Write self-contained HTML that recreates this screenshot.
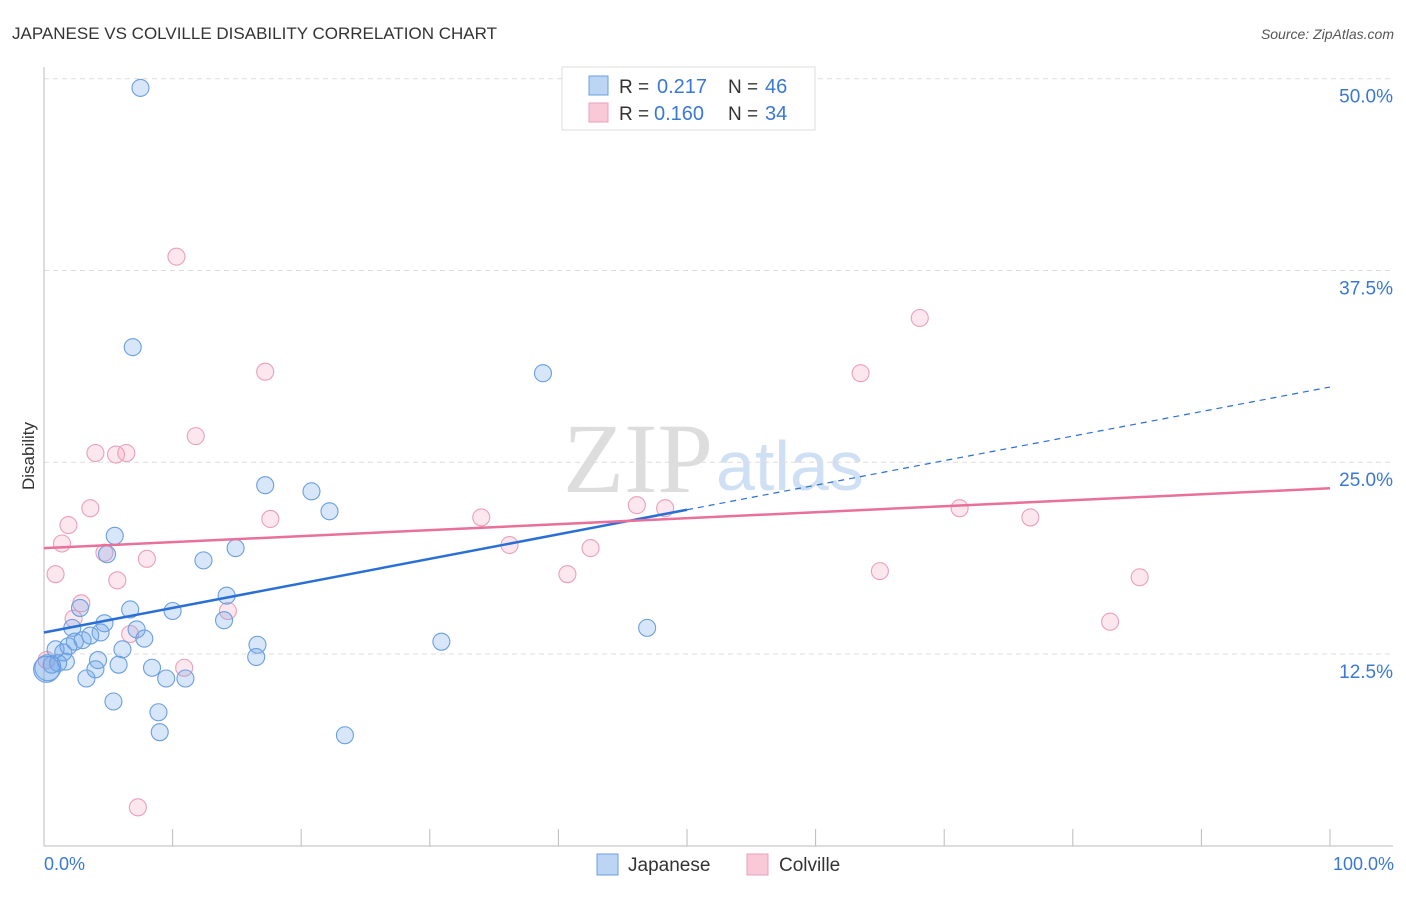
<!DOCTYPE html>
<html><head><meta charset="utf-8"><style>
body{margin:0;background:#fff;font-family:"Liberation Sans",sans-serif}
svg text{font-family:"Liberation Sans",sans-serif}
</style></head><body>
<svg id="c" width="1406" height="892" xmlns="http://www.w3.org/2000/svg">
<text x="12" y="39" font-size="17" fill="#333">JAPANESE VS COLVILLE DISABILITY CORRELATION CHART</text>
<text x="1394" y="39" font-size="14" fill="#555" font-style="italic" text-anchor="end">Source: ZipAtlas.com</text>
<text x="713" y="492" font-size="100" fill="#ddd" text-anchor="end" style="font-family:'Liberation Serif',serif">ZIP</text>
<text x="716" y="490" font-size="70" fill="#cfe0f5">atlas</text>
<g id="grid"></g><g id="axes"></g><g id="marks"></g>
<text x="34" y="456" font-size="17" fill="#333" text-anchor="middle" transform="rotate(-90 34 456)">Disability</text>
<text x="44" y="870" font-size="18" fill="#3a78d4">0.0%</text>
<text x="1394" y="870" font-size="18" fill="#3a78d4" text-anchor="end">100.0%</text>
<g>
<rect x="562" y="67" width="253" height="63" fill="#fff" stroke="#ddd"/>
<rect x="589" y="76" width="19" height="19" fill="#bcd5f5" stroke="#6a9fe0"/>
<rect x="589" y="103" width="19" height="19" fill="#f9c9d8" stroke="#e9a0b8"/>
<text x="619" y="93" font-size="19" fill="#333">R = </text>
<text x="657" y="93" font-size="20" fill="#3a78d4">0.217</text>
<text x="728" y="93" font-size="19" fill="#333">N = </text>
<text x="765" y="93" font-size="20" fill="#3a78d4">46</text>
<text x="619" y="120" font-size="19" fill="#333">R = </text>
<text x="654" y="120" font-size="20" fill="#3a78d4">0.160</text>
<text x="728" y="120" font-size="19" fill="#333">N = </text>
<text x="765" y="120" font-size="20" fill="#3a78d4">34</text>
</g>
<g>
<rect x="597" y="854" width="21" height="21" fill="#bcd5f5" stroke="#6a9fe0"/>
<text x="628" y="871" font-size="19" fill="#333">Japanese</text>
<rect x="747" y="854" width="21" height="21" fill="#f9c9d8" stroke="#e9a0b8"/>
<text x="779" y="871" font-size="19" fill="#333">Colville</text>
</g>
</svg>
<script>
const yTicks=[12.5,25,37.5,50];
const yTickLabels=["12.5%","25.0%","37.5%","50.0%"];
const xTicks=[0,10,20,30,40,50,60,70,80,90,100];
const japX=[7.5,6.9,38.8,17.2,20.8,22.2,5.5,4.9,14.9,12.4,14.2,2.8,6.7,10.0,14.0,4.7,2.2,7.2,4.4,3.6,7.8,3.0,2.4,1.9,16.6,30.9,46.9,0.9,1.5,6.1,4.2,1.7,16.5,0.6,0.3,1.1,5.8,8.4,4.0,0.2,3.3,9.5,11.0,5.4,8.9,9.0,23.4];
const japY=[49.4,32.5,30.8,23.5,23.1,21.8,20.2,19.0,19.4,18.6,16.3,15.5,15.4,15.3,14.7,14.5,14.2,14.1,13.9,13.7,13.5,13.4,13.3,13.0,13.1,13.3,14.2,12.8,12.6,12.8,12.1,12.0,12.3,11.8,11.6,11.9,11.8,11.6,11.5,11.5,10.9,10.9,10.9,9.4,8.7,7.4,7.2];
const colX=[10.3,68.1,17.2,63.5,11.8,4.0,5.6,6.4,3.6,17.6,1.9,34.0,46.1,48.3,71.2,76.7,1.4,36.2,4.7,8.0,42.5,0.9,5.7,40.7,65.0,85.2,2.9,2.3,14.3,6.7,82.9,10.9,0.2,7.3];
const colY=[38.4,34.4,30.9,30.8,26.7,25.6,25.5,25.6,22.0,21.3,20.9,21.4,22.2,22.0,22.0,21.4,19.7,19.6,19.1,18.7,19.4,17.7,17.3,17.7,17.9,17.5,15.8,14.8,15.3,13.8,14.6,11.6,12.1,2.5];
const japTrend=[13.9,29.9];
const colTrend=[19.4,23.3];
const japSolidEnd=50;
const NS="http://www.w3.org/2000/svg";
const sx=v=>44+v*12.86, sy=v=>845.7-v*15.34;
function mk(t,a,p){const e=document.createElementNS(NS,t);for(const k in a)e.setAttribute(k,a[k]);document.getElementById(p).appendChild(e);return e;}
yTicks.forEach((t,i)=>{
 const l=mk('line',{x1:44,x2:1393,y1:sy(t),y2:sy(t),stroke:'#ddd','stroke-dasharray':'5,4'},'grid');
 
 
 const tx=mk('text',{x:1393,y:sy(t)+24,'font-size':19,fill:'#3a78d4','text-anchor':'end'},'grid');
 tx.textContent=yTickLabels[i];
 
 
});
let a=mk('line',{x1:44,x2:1393,y1:846,y2:846,stroke:'#bbb'},'axes');


a=mk('line',{x1:44,x2:44,y1:67,y2:846,stroke:'#bbb'},'axes');


xTicks.forEach(t=>{const l=mk('line',{x1:sx(t),x2:sx(t),y1:829,y2:846,stroke:'#bbb'},'axes');
 
 });
function pts(X,Y,fill,stroke,name){X.forEach((x,i)=>{const r=(x<0.5&&Y[i]<12)?13:8.5;
 const c=mk('circle',{cx:sx(x),cy:sy(Y[i]),r:r,fill:fill,stroke:stroke,'stroke-width':1.1},'marks');
 
 });}
pts(colX,colY,'rgba(242,160,188,0.25)','#e9a0b8','colville-point');
pts(japX,japY,'rgba(110,165,232,0.28)','#6a9fe0','japanese-point');
const jl=t=>japTrend[0]+(japTrend[1]-japTrend[0])*t/100;
let l=mk('line',{x1:sx(0),y1:sy(jl(0)),x2:sx(japSolidEnd),y2:sy(jl(japSolidEnd)),stroke:'#2a6fd6','stroke-width':2.5},'marks');


l=mk('line',{x1:sx(japSolidEnd),y1:sy(jl(japSolidEnd)),x2:sx(100),y2:sy(jl(100)),stroke:'#2a6fd6','stroke-width':1.2,'stroke-dasharray':'6,5'},'marks');


l=mk('line',{x1:sx(0),y1:sy(colTrend[0]),x2:sx(100),y2:sy(colTrend[1]),stroke:'#e8709a','stroke-width':2.5},'marks');


</script>
</body></html>
